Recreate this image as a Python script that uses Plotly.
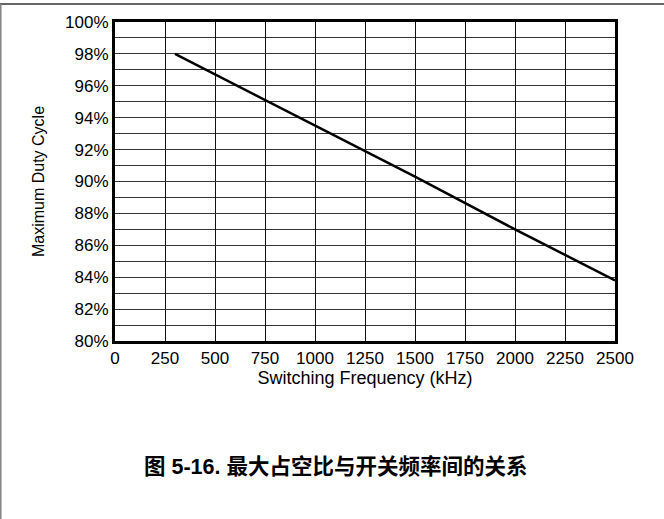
import plotly.graph_objects as go

# Data
freq_khz = [300, 1000, 1500, 2000, 2500]
max_duty_pct = [98.0, 93.5, 90.3, 87.0, 83.8]

x_ticks = [0, 250, 500, 750, 1000, 1250, 1500, 1750, 2000, 2250, 2500]
y_ticks = [80, 82, 84, 86, 88, 90, 92, 94, 96, 98, 100]

W, H = 664, 519
L, R, T, B = 115, 49, 22, 178
pw, ph = W - L - R, H - T - B

def px_x(p):
    return (p - L) / pw

def px_y(p):
    return (H - B - p) / ph

font_main = "Liberation Sans, Arial, sans-serif"

fig = go.Figure()
fig.add_trace(go.Scatter(
    x=freq_khz, y=max_duty_pct, mode="lines",
    line=dict(color="black", width=2.5), showlegend=False,
    hoverinfo="skip",
))

fig.update_layout(
    width=W, height=H,
    margin=dict(l=L, r=R, t=T, b=B),
    paper_bgcolor="white", plot_bgcolor="white",
    font=dict(family=font_main, size=16, color="black"),
    xaxis=dict(
        range=[0, 2500], tickvals=x_ticks, ticktext=[str(v) for v in x_ticks],
        showgrid=True, gridcolor="#111111", gridwidth=1,
        showline=True, linecolor="black", linewidth=3, mirror=True,
        zeroline=False, ticks="", ticklen=0,
        title=dict(text="Switching Frequency (kHz)", standoff=3,
                   font=dict(size=18)),
        tickfont=dict(size=17),
    ),
    yaxis=dict(
        range=[80, 100], tickvals=y_ticks,
        ticktext=[f"{v}%" for v in y_ticks],
        showgrid=True, gridcolor="#333333", gridwidth=1,
        minor=dict(dtick=1, tick0=80, showgrid=True, gridcolor="#333333", gridwidth=1),
        showline=True, linecolor="black", linewidth=3, mirror=True,
        zeroline=False, ticks="", ticklen=0,
        title=dict(text="Maximum Duty Cycle", standoff=17, font=dict(size=16)),
        tickfont=dict(size=17),
    ),
    shapes=[
        dict(type="line", xref="paper", yref="paper",
             x0=px_x(0), x1=px_x(W), y0=px_y(4), y1=px_y(4),
             line=dict(color="#333333", width=1.5)),
        dict(type="line", xref="paper", yref="paper",
             x0=px_x(0.8), x1=px_x(0.8), y0=px_y(4), y1=px_y(H),
             line=dict(color="#808080", width=1.5)),
    ],
    annotations=[
        dict(text="<b>图 5-16. 最大占空比与开关频率间的关系</b>",
             xref="paper", yref="paper", x=px_x(335), y=px_y(467),
             xanchor="center", yanchor="middle", showarrow=False,
             font=dict(family="Liberation Sans, Noto Sans CJK SC, sans-serif",
                       size=21.5, color="black")),
    ],
)

fig.write_html(
    "out.html",
    config={"displayModeBar": False},
    post_script="document.body.style.margin='0';document.body.style.overflow='hidden';",
)
